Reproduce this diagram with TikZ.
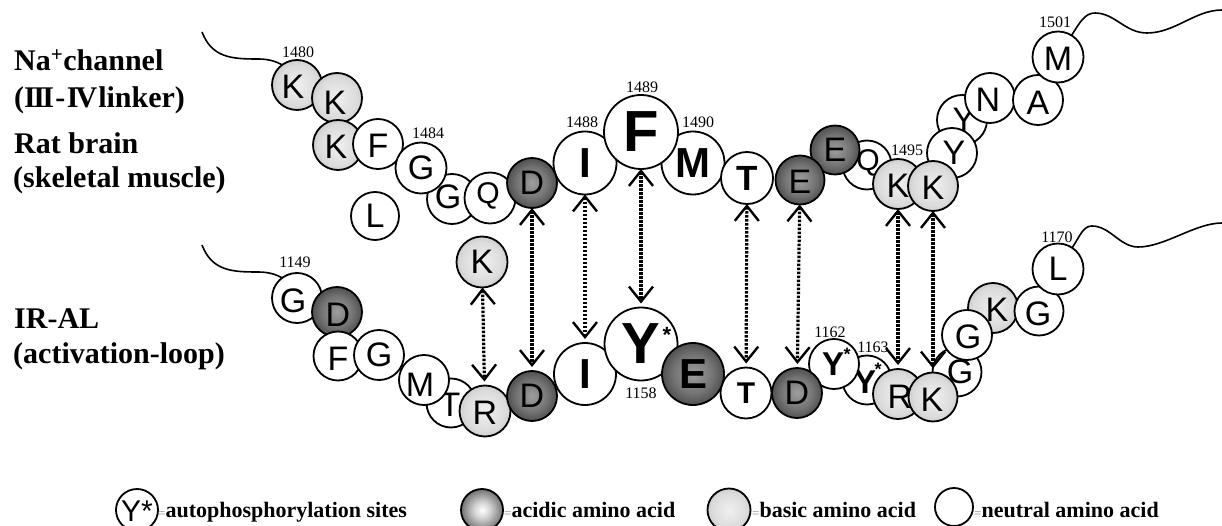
\documentclass[tikz,border=0pt]{standalone}
\usepackage{fontspec}
\setmainfont{Liberation Serif}
\newfontfamily\lsans{Liberation Sans}
\usetikzlibrary{arrows.meta,calc}

% radial shadings: 50bp is the rim of the circle
\pgfdeclareradialshading{acidball}{\pgfpoint{0bp}{0bp}}{color(0bp)=(black!38); color(16bp)=(black!55); color(38bp)=(black!88); color(50bp)=(black)}
\pgfdeclareradialshading{acidkey}{\pgfpoint{0bp}{0bp}}{color(0bp)=(white); color(10bp)=(black!18); color(34bp)=(black!78); color(50bp)=(black)}
\pgfdeclareradialshading{basicball}{\pgfpoint{0bp}{0bp}}{color(0bp)=(black!6); color(20bp)=(black!14); color(50bp)=(black!45)}

\newcommand\eqsign{{\mdseries\fontsize{13}{13}\selectfont\color{black!45}=}}
% Roman numerals set from bold serif capitals whose serifs join into bars
\newcommand\romthree{I\kern-2.6pt I\kern-2.6pt I}
\newcommand\romfour{I\kern-3pt V}

% residue: name, centre, circle style, letter style, letter, letter shift
\newcommand\amino[6]{%
  \node[#3] (#1) at (#2) {};
  \node[#4, shift={(#6)}] (#1-l) at (#1) {#5};}

\tikzset{
  ring/.style={circle, draw, line width=1.8pt, inner sep=0pt, outer sep=0pt},
  neu/.style={ring, fill=white, minimum size=#1pt},
  bas/.style={ring, shade, shading=basicball, minimum size=#1pt},
  acd/.style={ring, shade, shading=acidball, minimum size=#1pt},
  aa/.style={inner sep=0pt, font=\lsans\fontsize{#1}{#1}\selectfont},
  aab/.style={inner sep=0pt, font=\lsans\bfseries\fontsize{#1}{#1}\selectfont},
  num/.style={inner sep=0pt, font=\fontsize{16}{16}\selectfont},
  lab/.style={inner sep=0pt, anchor=base west, font=\bfseries\fontsize{30}{30}\selectfont},
  keytext/.style={inner sep=0pt, anchor=base west, font=\bfseries\fontsize{22}{22}\selectfont},
  tail/.style={line width=1.6pt},
  barb/.tip={Straight Barb[length=15pt,width=24pt,line width=2.4pt]},
  pair/.style={line width=3.2pt, dash pattern=on 2.6pt off 1.4pt, barb-barb, shorten >=4pt},
}

\begin{document}
\begin{tikzpicture}[x=1pt,y=-1pt]
\useasboundingbox (0,0) rectangle (1222,526);

% ---- side titles
\node[lab] (na) at (14,71) {Na\textsuperscript{+}channel};
\node[lab] (linker) at (14,108) {(\romthree\kern1.5pt-\kern1.5pt\romfour\kern1pt linker)};
\node[lab] (rat) at (14,154) {Rat brain};
\node[lab] (skm) at (13,188) {(skeletal muscle)};
\node[lab] (iral) at (14,328) {IR-AL};
\node[lab] (actl) at (13,363) {(activation-loop)};

% ---- Na+ channel III-IV linker
\coordinate (tl0) at (202,32);
\coordinate (tr0) at (1222,10);
\draw[tail] (tl0) .. controls (212,58) and (232,59) .. (258,59) .. controls (268,59) and (276,61) .. (284,66);
\amino{tK1}{297,85}{bas=50}{aa=34}{K}{-4,2}
\amino{tK2}{337,98}{bas=50}{aa=34}{K}{-2,5}
\amino{tK3}{338,145}{bas=50}{aa=34}{K}{-2,2}
\amino{tF1}{378,144}{neu=50}{aa=34}{F}{0,2}
\amino{tG2}{452,199}{neu=50}{aa=34}{G}{-4,-2}
\amino{tG1}{421,168}{neu=51}{aa=34}{G}{0,0}
\amino{tQ1}{490,198}{neu=51}{aa=30}{Q}{-2,-2}
\amino{tL}{375,216}{neu=48}{aa=34}{L}{0,0}
\amino{tI}{585,163}{neu=63}{aab=42}{I}{0,0}
\amino{tD}{532,183}{acd=50}{aa=34}{D}{0,0}
\amino{tM1}{693,163}{neu=63}{aab=42}{M}{0,0}
\amino{tT}{747,178}{neu=52}{aab=35}{T}{0,0}
\amino{tF}{641,132}{neu=74}{aab=58}{F}{0,0}
\amino{tQ2}{867,165}{neu=49}{aa=30}{Q}{1,-2}
\amino{tE2}{835,150}{acd=49}{aa=34}{E}{0,0}
\amino{tE1}{800,180}{acd=49}{aa=34}{E}{0,2}
\amino{tY2}{962,120}{neu=50}{aa=34}{Y}{2,0}
\amino{tN}{990,98}{neu=50}{aa=34}{N}{-2,2}
\amino{tA}{1038,100}{neu=50}{aa=34}{A}{0,3}
\amino{tM2}{1058,57}{neu=51}{aa=34}{M}{0,2}
\amino{tY1}{952,153}{neu=50}{aa=34}{Y}{2,0}
\amino{tK4}{898,184}{bas=50}{aa=34}{K}{0,2}
\amino{tK5}{933,186}{bas=50}{aa=34}{K}{0,2}
\draw[tail] (tM2) .. controls (1080,22) and (1085,13) .. (1095,13) .. controls (1115,13) and (1125,33) .. (1147,33) .. controls (1175,33) and (1195,10) .. (tr0);

\node[num] (n1480) at (298,52) {1480};
\node[num] (n1484) at (428,133) {1484};
\node[num] (n1488) at (582,122) {1488};
\node[num] (n1489) at (642,87) {1489};
\node[num] (n1490) at (698,122) {1490};
\node[num] (n1495) at (907,150) {1495};
\node[num] (n1501) at (1055,22) {1501};

% ---- insulin receptor activation loop
\coordinate (bl0) at (202,245);
\coordinate (br0) at (1222,223);
\draw[tail] (bl0) .. controls (212,271) and (232,272) .. (258,272) .. controls (268,272) and (276,274) .. (284,279);
\amino{bG1}{297,298}{neu=50}{aa=34}{G}{-4,3}
\amino{bD1}{337,312}{acd=50}{aa=34}{D}{1,3}
\amino{bF}{338,356}{neu=49}{aa=34}{F}{0,3}
\amino{bT1}{451,403}{neu=49}{aa=34}{T}{-1,2}
\amino{bM}{424,380}{neu=50}{aa=34}{M}{-4,5}
\amino{bG2}{379,355}{neu=50}{aa=34}{G}{0,0}
\amino{bR1}{485,411}{bas=51}{aa=34}{R}{0,2}
\amino{bI}{585,374}{neu=62}{aab=42}{I}{0,0}
\amino{bD2}{532,396}{acd=50}{aa=34}{D}{0,0}
\amino{bT2}{746,393}{neu=51}{aab=30}{T}{0,0}
\amino{bY1}{641,344}{neu=73}{aab=58}{Y}{0,0}
\node[aab=22] (bY1-s) at ($(bY1)+(26,-9)$) {*};
\amino{bE}{693,374}{acd=62}{aab=42}{E}{0,0}
\amino{bY3}{867,380}{neu=49}{aab=33}{Y}{-2,2}
\node[aab=18] (bY3-s) at ($(bY3)+(11,-11)$) {*};
\amino{bY2}{834,364}{neu=50}{aab=33}{Y}{-1,0}
\node[aab=18] (bY2-s) at ($(bY2)+(13,-10)$) {*};
\amino{bD3}{797,393}{acd=50}{aa=34}{D}{0,0}
\amino{bG3}{957,372}{neu=49}{aa=34}{G}{3,0}
\amino{bR2}{898,394}{bas=50}{aa=34}{R}{2,3}
\amino{bK2}{933,397}{bas=49}{aa=34}{K}{-1,3}
\amino{bK3}{993,308}{bas=50}{aa=34}{K}{4,2}
\amino{bG4}{967,335}{neu=50}{aa=34}{G}{1,2}
\amino{bG5}{1039,311}{neu=49}{aa=34}{G}{-1,3}
\amino{bL}{1058,269}{neu=51}{aa=34}{L}{0,0}
\amino{bKx}{482,262}{bas=51}{aa=34}{K}{0,0}
\draw[tail] (bL) .. controls (1080,236) and (1083,226) .. (1092,226) .. controls (1110,226) and (1120,247) .. (1138,247) .. controls (1165,247) and (1195,223) .. (br0);

\node[num] (n1149) at (295,262) {1149};
\node[num] (n1158) at (641,393) {1158};
\node[num] (n1162) at (830,332) {1162};
\node[num] (n1163) at (873,347) {1163};
\node[num] (n1170) at (1057,237) {1170};

% ---- interactions
\draw[pair] (bKx) -- (bR1);
\draw[pair] (tD) -- (bD2);
\draw[pair] (tI) -- (bI);
\draw[pair] (tF) -- (bY1);
\draw[pair] (tT) -- (bT2);
\draw[pair] (tE1) -- (bD3);
\draw[pair] (tK4) -- (bR2);
\draw[pair] (tK5) -- (bK2);

% ---- key
\node[neu=42] (kY) at (137,510) {};
\node[aa=30] (kY-l) at (137,511) {Y*};
\node[keytext] (kYt) at (158,517) {\eqsign autophosphorylation sites};
\node[ring, shade, shading=acidkey, minimum size=42pt] (kA) at (482,510) {};
\node[keytext] (kAt) at (504,517) {\eqsign acidic amino acid};
\node[bas=43] (kB) at (729,510) {};
\node[keytext] (kBt) at (752,517) {\eqsign basic amino acid};
\node[neu=38] (kN) at (954,507) {};
\node[keytext] (kNt) at (974,517) {\eqsign neutral amino acid};
\end{tikzpicture}
\end{document}
